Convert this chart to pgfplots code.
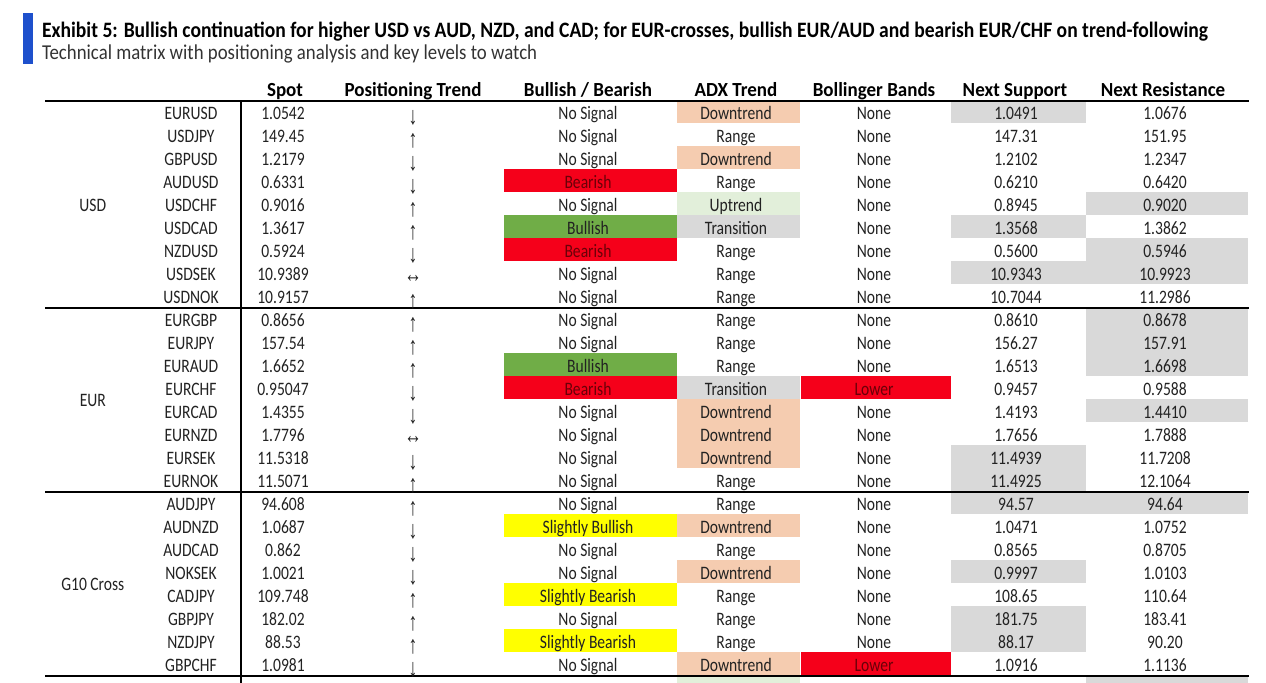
\documentclass[border=0pt]{standalone}
\usepackage{fontspec}
\setmainfont{Carlito}[FakeStretch=0.82]
\newfontfamily\titlefont{Carlito}[FakeStretch=0.89]
\newfontfamily\subfont{Carlito}[FakeStretch=0.887]
\newfontfamily\headfont{Carlito}[FakeStretch=0.95]
\newfontfamily\arrowfont{Liberation Sans}[FakeStretch=0.7]
\usepackage{pgfplots}
\usepackage{pgfplotstable}
\pgfplotsset{compat=1.18}
\definecolor{peach}{HTML}{F5CCB0}
\definecolor{lgreen}{HTML}{E2EFDA}
\definecolor{lgray}{HTML}{D9D9D9}
\definecolor{bred}{HTML}{F5001A}
\definecolor{bgreen}{HTML}{70AD47}
\definecolor{byellow}{HTML}{FFFF00}
\definecolor{bblue}{HTML}{1E50CC}
\definecolor{txt}{HTML}{222222}
\definecolor{dred}{HTML}{6A0008}

\pgfplotstableread[col sep=comma]{
row,pair,spot,arrow,signal,adx,boll,sup,res
0,EURUSD,1.0542,↓,No Signal,Downtrend,None,1.0491,1.0676
1,USDJPY,149.45,↑,No Signal,Range,None,147.31,151.95
2,GBPUSD,1.2179,↓,No Signal,Downtrend,None,1.2102,1.2347
3,AUDUSD,0.6331,↓,,Range,None,0.6210,0.6420
4,USDCHF,0.9016,↑,No Signal,Uptrend,None,0.8945,0.9020
5,USDCAD,1.3617,↑,Bullish,Transition,None,1.3568,1.3862
6,NZDUSD,0.5924,↓,,Range,None,0.5600,0.5946
7,USDSEK,10.9389,↔,No Signal,Range,None,10.9343,10.9923
8,USDNOK,10.9157,↑,No Signal,Range,None,10.7044,11.2986
9,EURGBP,0.8656,↑,No Signal,Range,None,0.8610,0.8678
10,EURJPY,157.54,↑,No Signal,Range,None,156.27,157.91
11,EURAUD,1.6652,↑,Bullish,Range,None,1.6513,1.6698
12,EURCHF,0.95047,↓,,Transition,,0.9457,0.9588
13,EURCAD,1.4355,↓,No Signal,Downtrend,None,1.4193,1.4410
14,EURNZD,1.7796,↔,No Signal,Downtrend,None,1.7656,1.7888
15,EURSEK,11.5318,↓,No Signal,Downtrend,None,11.4939,11.7208
16,EURNOK,11.5071,↑,No Signal,Range,None,11.4925,12.1064
17,AUDJPY,94.608,↑,No Signal,Range,None,94.57,94.64
18,AUDNZD,1.0687,↓,Slightly Bullish,Downtrend,None,1.0471,1.0752
19,AUDCAD,0.862,↓,No Signal,Range,None,0.8565,0.8705
20,NOKSEK,1.0021,↓,No Signal,Downtrend,None,0.9997,1.0103
21,CADJPY,109.748,↑,Slightly Bearish,Range,None,108.65,110.64
22,GBPJPY,182.02,↑,No Signal,Range,None,181.75,183.41
23,NZDJPY,88.53,↑,Slightly Bearish,Range,None,88.17,90.20
24,GBPCHF,1.0981,↓,No Signal,Downtrend,,1.0916,1.1136
}\fx

% the row that the frame cuts off (drawn 5 px higher and shifted down)
\pgfplotstableread[col sep=comma]{
row,pair,spot,arrow,signal,adx,boll,sup,res
24.78,USDMXN,17.9643,↑,No Signal,Uptrend,None,17.7651,17.9833
}\fxcut

% coloured cell: colour, x left, x right, row index
\newcommand{\cell}[4]{%
  \pgfmathsetmacro{\ya}{100.5+23*#4}%
  \pgfmathsetmacro{\yb}{123.5+23*#4}%
  \edef\tmp{\noexpand\addplot[fill=#1,draw=none,forget plot] coordinates {(#2,\ya) (#3,\ya) (#3,\yb) (#2,\yb)};}%
  \tmp}

\pgfplotsset{
  txtplot/.style={only marks, mark=none, forget plot, nodes near coords,
    point meta=explicit symbolic,
    every node near coord/.append style={anchor=base, inner sep=0pt, yshift=-3.65pt,
      font=\fontsize{9.5}{11}\selectfont, text=txt}},
  arrowplot/.style={txtplot, every node near coord/.append style={anchor=center, yshift=0.7pt,
    font=\arrowfont\fontsize{12.5}{13}\selectfont}},
}

\begin{document}
\begin{tikzpicture}
\begin{axis}[x=0.5pt, y=0.5pt, y dir=reverse,
  xmin=0, xmax=1266, ymin=0, ymax=683,
  hide axis, clip=true]

% blue bar
\addplot[fill=bblue, draw=none, forget plot] coordinates {(23.3,13.3) (33.3,13.3) (33.3,64) (23.3,64)};

% coloured cells: Bullish / Bearish
\cell{bred}{504}{676.5}{3}
\cell{bred}{504}{676.5}{6}
\cell{bred}{504}{676.5}{12}
\cell{bgreen}{504}{676.5}{5}
\cell{bgreen}{504}{676.5}{11}
\cell{byellow}{504}{676.5}{18}
\cell{byellow}{504}{676.5}{21}
\cell{byellow}{504}{676.5}{23}
% ADX
\cell{peach}{677}{800}{0}
\cell{peach}{677}{800}{2}
\cell{peach}{677}{800}{13}
\cell{peach}{677}{800}{14}
\cell{peach}{677}{800}{15}
\cell{peach}{677}{800}{18}
\cell{peach}{677}{800}{20}
\cell{peach}{677}{800}{24}
\cell{lgreen}{677}{800}{4}
\cell{lgreen}{677}{800}{25}
\cell{lgray}{677}{800}{5}
\cell{lgray}{677}{800}{12}
% Bollinger
\cell{bred}{800.5}{950.5}{12}
\cell{bred}{800.5}{950.5}{24}
% Next support
\cell{lgray}{951}{1085.5}{0}
\cell{lgray}{951}{1085.5}{5}
\cell{lgray}{951}{1085.5}{7}
\cell{lgray}{951}{1085.5}{15}
\cell{lgray}{951}{1085.5}{16}
\cell{lgray}{951}{1085.5}{17}
\cell{lgray}{951}{1085.5}{20}
\cell{lgray}{951}{1085.5}{22}
\cell{lgray}{951}{1085.5}{23}
% Next resistance
\cell{lgray}{1086}{1248}{4}
\cell{lgray}{1086}{1248}{6}
\cell{lgray}{1086}{1248}{7}
\cell{lgray}{1086}{1248}{9}
\cell{lgray}{1086}{1248}{10}
\cell{lgray}{1086}{1248}{11}
\cell{lgray}{1086}{1248}{13}
\cell{lgray}{1086}{1248}{17}
\cell{lgray}{1086}{1248}{25}

% rules
\addplot[black, line width=1pt, forget plot] coordinates {(45,101.2) (1249,101.2)};
\addplot[black, line width=1pt, forget plot] coordinates {(45,307.6) (1249,307.6)};
\addplot[black, line width=1pt, forget plot] coordinates {(45,491.8) (1249,491.8)};
\addplot[black, line width=1pt, forget plot] coordinates {(45,675.8) (1249,675.8)};
\addplot[black, line width=0.75pt, forget plot] coordinates {(240.8,101) (240.8,700)};

% title and subtitle
\addplot[only marks, mark=none, forget plot,
  nodes near coords={Exhibit 5: Bullish continuation for higher USD vs AUD, NZD, and CAD; for EUR-crosses, bullish EUR/AUD and bearish EUR/CHF on trend-following},
  every node near coord/.append style={anchor=base west, inner sep=0pt,
    font=\titlefont\bfseries\fontsize{11}{13}\selectfont, text=black}]
  coordinates {(41.7,37.3)};
\addplot[only marks, mark=none, forget plot,
  nodes near coords={Technical matrix with positioning analysis and key levels to watch},
  every node near coord/.append style={anchor=base west, inner sep=0pt,
    font=\subfont\fontsize{10.6}{12}\selectfont, text=black!80}]
  coordinates {(41.7,59.3)};

% header
\addplot[only marks, mark=none, forget plot, nodes near coords, point meta=explicit symbolic,
  every node near coord/.append style={anchor=base, inner sep=0pt,
    font=\headfont\bfseries\fontsize{10}{11}\selectfont, text=black}]
  coordinates {(285,96.7) [Spot] (413,96.7) [Positioning Trend] (588,96.7) [Bullish / Bearish]
    (736,96.7) [ADX Trend] (874,96.7) [Bollinger Bands] (1015,96.7) [Next Support] (1163,96.7) [Next Resistance]};

% group labels
\addplot[only marks, mark=none, forget plot, nodes near coords, point meta=explicit symbolic,
  every node near coord/.append style={anchor=base, inner sep=0pt,
    font=\fontsize{9.5}{11}\selectfont, text=txt}]
  coordinates {(92.8,211.3) [USD] (92.8,406.8) [EUR] (92.8,590.8) [G10 Cross]};

% body columns
\addplot[txtplot] table[x expr=191, y expr=112+23*\thisrow{row}, meta=pair] {\fx};
\addplot[txtplot] table[x expr=283, y expr=112+23*\thisrow{row}, meta=spot] {\fx};
\addplot[arrowplot] table[x expr=413, y expr=112+23*\thisrow{row}, meta=arrow] {\fx};
\addplot[txtplot] table[x expr=588, y expr=112+23*\thisrow{row}, meta=signal] {\fx};
\addplot[txtplot] table[x expr=736, y expr=112+23*\thisrow{row}, meta=adx] {\fx};
\addplot[txtplot] table[x expr=874, y expr=112+23*\thisrow{row}, meta=boll] {\fx};
\addplot[txtplot] table[x expr=1016, y expr=112+23*\thisrow{row}, meta=sup] {\fx};
\addplot[txtplot] table[x expr=1165, y expr=112+23*\thisrow{row}, meta=res] {\fx};

% cut-off last row: placed inside the axis range, shifted down onto the edge
\pgfplotsset{cutrow/.style={every node near coord/.append style={yshift=-6.1pt}}}
\addplot[txtplot, cutrow] table[x expr=191, y expr=112+23*\thisrow{row}, meta=pair] {\fxcut};
\addplot[txtplot, cutrow] table[x expr=283, y expr=112+23*\thisrow{row}, meta=spot] {\fxcut};
\addplot[arrowplot, every node near coord/.append style={yshift=-1.85pt}] table[x expr=413, y expr=112+23*\thisrow{row}, meta=arrow] {\fxcut};
\addplot[txtplot, cutrow] table[x expr=588, y expr=112+23*\thisrow{row}, meta=signal] {\fxcut};
\addplot[txtplot, cutrow] table[x expr=736, y expr=112+23*\thisrow{row}, meta=adx] {\fxcut};
\addplot[txtplot, cutrow] table[x expr=874, y expr=112+23*\thisrow{row}, meta=boll] {\fxcut};
\addplot[txtplot, cutrow] table[x expr=1016, y expr=112+23*\thisrow{row}, meta=sup] {\fxcut};
\addplot[txtplot, cutrow] table[x expr=1165, y expr=112+23*\thisrow{row}, meta=res] {\fxcut};

% dark red texts in red cells
\addplot[only marks, mark=none, forget plot, nodes near coords, point meta=explicit symbolic,
  every node near coord/.append style={anchor=base, inner sep=0pt,
    font=\fontsize{9.5}{11}\selectfont, text=dred}]
  coordinates {(588,188.3) [Bearish] (588,257.3) [Bearish] (588,395.3) [Bearish]
    (874,395.3) [Lower] (874,671.3) [Lower]};
\end{axis}
\pgfresetboundingbox
\useasboundingbox (current axis.south west) rectangle (current axis.north east);
\end{tikzpicture}
\end{document}
